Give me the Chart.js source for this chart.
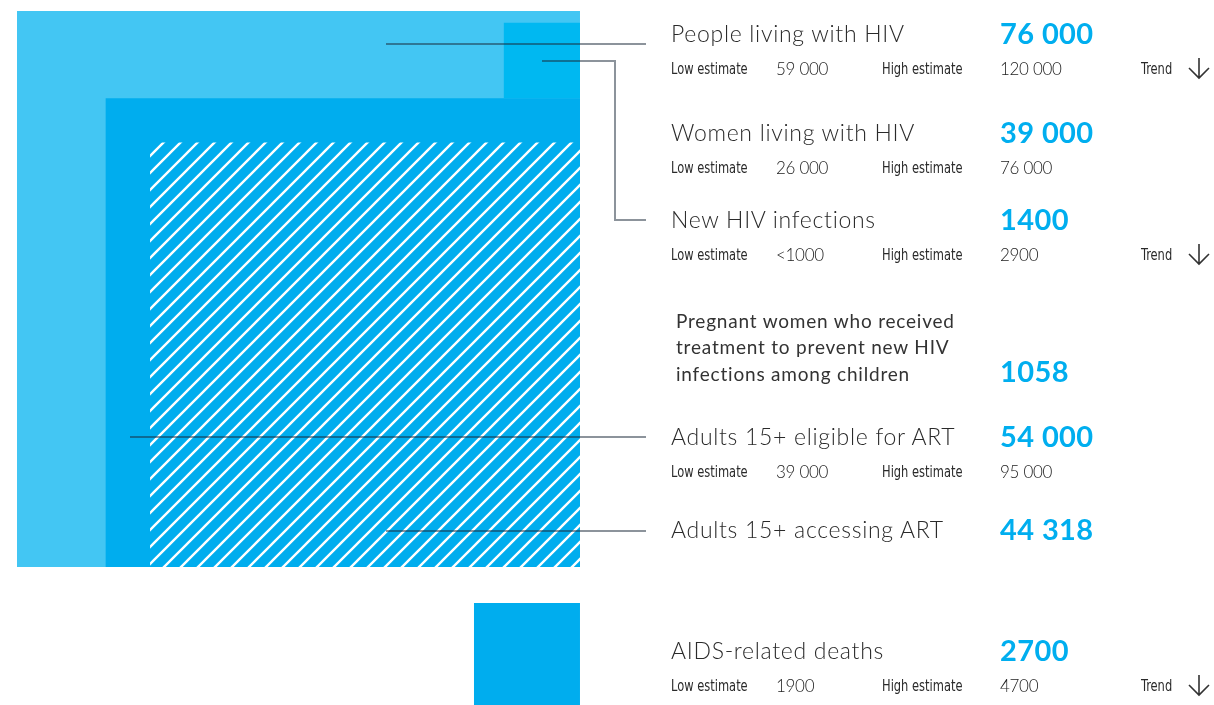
<!DOCTYPE html>
<html lang="en">
<head>
<meta charset="UTF-8">
<title>HIV estimates</title>
<script src="https://cdn.jsdelivr.net/npm/chart.js"></script>
<style>
  html, body { margin: 0; padding: 0; background: #fff; }
  #wrap { position: relative; width: 1214px; height: 705px; overflow: hidden; font-family: Lato, "Open Sans", sans-serif; color: #333; }
  #chart { position: absolute; left: 0; top: 0; }
  .t { position: absolute; white-space: nowrap; }
  .title { font-size: 23px; font-weight: 300; line-height: 30px; letter-spacing: 0.7px; color: #2a2a2a; }
  .value { font-size: 29px; font-weight: 700; line-height: 32px; letter-spacing: 0.4px; color: #00aeef; }
  .lbl { font-family: "Liberation Sans Narrow", "DejaVu Sans Condensed", sans-serif; font-size: 15px; line-height: 20px; color: #2a2a2a; transform: scaleX(0.85); transform-origin: left center; }
  .num { font-size: 17px; font-weight: 300; line-height: 20px; letter-spacing: -0.3px; color: #222; }
  .long { font-size: 19px; font-weight: 400; line-height: 26.5px; letter-spacing: 0.8px; color: #333; }
  .arrow { position: absolute; }
</style>
</head>
<body>
<div id="wrap">
  <canvas id="chart" width="1214" height="705"></canvas>
  <div id="panel"></div>
</div>
<script>
// ---- data ----
const labels = [
  'People living with HIV',
  'Women living with HIV',
  'New HIV infections',
  'Pregnant women who received treatment to prevent new HIV infections among children',
  'Adults 15+ eligible for ART',
  'Adults 15+ accessing ART',
  'AIDS-related deaths'
];
const values = [76000, 39000, 1400, 1058, 54000, 44318, 2700];
const lowEstimates = ['59 000', '26 000', '<1000', null, '39 000', null, '1900'];
const highEstimates = ['120 000', '76 000', '2900', null, '95 000', null, '4700'];
const trendDown = [true, false, true, false, false, false, true];

// ---- layout (pixels for the text panel) ----
const titleX = 671, valueX = 1000;
const rowY = [33, 132, 219, 371, 436, 529, 650];   // centre of each title line
const pregnantLines = ['Pregnant women who received', 'treatment to prevent new HIV', 'infections among children'];

// rows that get a square, back to front
const squareRows = [0, 4, 5, 2, 6];

// square geometry in sqrt(value) units: right edges at x = 0, y grows downward
const side = i => Math.sqrt(values[i]);
const big = side(0);
const geo = {};
geo[0] = { top: 0, s: big };
geo[4] = { top: big - side(4), s: side(4) };
geo[5] = { top: big - side(5), s: side(5) };
geo[2] = { top: geo[4].top - side(2), s: side(2) };
geo[6] = { top: big + 17.8, s: side(6) };

// diagonal stripe pattern for people on treatment
function stripes(bg) {
  const d = 17;
  const c = document.createElement('canvas');
  c.width = d; c.height = d;
  const g = c.getContext('2d');
  g.fillStyle = bg;
  g.fillRect(0, 0, d, d);
  g.strokeStyle = '#fff';
  g.lineWidth = 2.4;
  g.beginPath();
  g.moveTo(0, d); g.lineTo(d, 0);
  g.moveTo(-2, 2); g.lineTo(2, -2);
  g.moveTo(d - 2, d + 2); g.lineTo(d + 2, d - 2);
  g.stroke();
  return g.createPattern(c, 'repeat');
}

const fills = { 0: '#43c6f3', 2: '#00b8f1', 4: '#00adee', 5: stripes('#00adee'), 6: '#00adee' };

const datasets = squareRows.map((r, k) => {
  const g = geo[r];
  return {
    label: labels[r],
    data: [{ x: -g.s, y: g.top }, { x: 0, y: g.top }],
    fill: { value: g.top + g.s },
    backgroundColor: fills[r],
    borderColor: 'rgba(0,0,0,0)',
    borderWidth: 0,
    pointRadius: 0,
    pointHoverRadius: 0,
    order: squareRows.length - k
  };
});

// leader lines from squares to the labels
const callouts = [
  { row: 0, fx: 0.345, fy: 0.06 },
  { row: 2, fx: 0.5, fy: 0.5, elbow: 35 },
  { row: 4, fx: 0.948, fy: 0.722 },
  { row: 5, fx: 0.451, fy: 0.915 }
];

const leaderLines = {
  id: 'leaderLines',
  afterDatasetsDraw(chart) {
    const { ctx } = chart;
    const xs = chart.scales.x, ys = chart.scales.y;
    const endX = titleX - 25;
    ctx.save();
    ctx.strokeStyle = 'rgba(25, 40, 55, 0.5)';
    ctx.lineWidth = 2;
    callouts.forEach(c => {
      const g = geo[c.row];
      const x0 = Math.round(xs.getPixelForValue(-c.fx * g.s));
      const y0 = Math.round(ys.getPixelForValue(g.top + c.fy * g.s));
      ctx.beginPath();
      ctx.moveTo(x0, y0);
      if (c.elbow) {
        const ex = Math.round(xs.getPixelForValue(0)) + c.elbow;
        ctx.lineTo(ex, y0);
        ctx.lineTo(ex, rowY[c.row] + 1);
        ctx.lineTo(endX, rowY[c.row] + 1);
      } else {
        ctx.lineTo(endX, y0);
      }
      ctx.stroke();
    });
    ctx.restore();
  }
};

new Chart(document.getElementById('chart'), {
  type: 'line',
  data: { datasets },
  options: {
    responsive: false,
    animation: false,
    events: [],
    layout: { padding: 0 },
    scales: {
      x: { type: 'linear', display: false, min: -284.0, max: 310.45 },
      y: { type: 'linear', display: false, reverse: true, min: -5.45, max: 344.1 }
    },
    plugins: { legend: { display: false }, tooltip: { enabled: false } }
  },
  plugins: [leaderLines]
});

// ---- text panel ----
const panel = document.getElementById('panel');
function put(cls, text, x, cy, lh) {
  const el = document.createElement('div');
  el.className = 't ' + cls;
  el.textContent = text;
  el.style.left = x + 'px';
  el.style.top = (cy - lh / 2) + 'px';
  panel.appendChild(el);
  return el;
}
function fmt(v) {
  return v >= 10000 ? String(v).replace(/\B(?=(\d{3})+(?!\d))/g, ' ') : String(v);
}
function arrow(x, cy) {
  const ns = 'http://www.w3.org/2000/svg';
  const svg = document.createElementNS(ns, 'svg');
  svg.setAttribute('width', 24); svg.setAttribute('height', 24);
  svg.setAttribute('class', 'arrow');
  svg.style.left = x + 'px';
  svg.style.top = (cy - 12) + 'px';
  svg.innerHTML = '<path d="M12 2 V22 M2 12 L12 22 L22 12" fill="none" stroke="#333" stroke-width="1.6"/>';
  panel.appendChild(svg);
}

labels.forEach((lab, i) => {
  const cy = rowY[i];
  if (i === 3) {
    pregnantLines.forEach((ln, k) => put('long', ln, 676, 321 + k * 26.5, 26.5));
  } else {
    put('title', lab, titleX, cy, 30);
  }
  put('value', fmt(values[i]), valueX, cy, 32);
  if (lowEstimates[i] !== null) {
    const sy = cy + 36;
    put('lbl', 'Low estimate', titleX, sy, 20);
    put('num', lowEstimates[i], 776, sy, 20);
    put('lbl', 'High estimate', 882, sy, 20);
    put('num', highEstimates[i], valueX, sy, 20);
    if (trendDown[i]) {
      put('lbl', 'Trend', 1141, sy, 20);
      arrow(1187, sy - 1);
    }
  }
});
</script>
</body>
</html>
